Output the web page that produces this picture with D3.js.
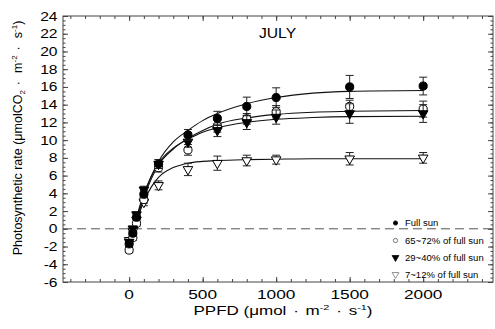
<!DOCTYPE html>
<html><head><meta charset="utf-8">
<script src="https://cdn.jsdelivr.net/npm/d3@7"></script>
<style>
body{margin:0;background:#fff;}
text{font-family:Arial,"Liberation Sans",sans-serif;fill:#000;}
</style></head>
<body><svg id="c" width="495" height="329"></svg>
<script>
// ---- data ----
const ppfd = [0, 25, 50, 100, 200, 400, 600, 800, 1000, 1500, 2000];
const seriesNames = ["Full sun", "65~72% of full sun", "29~40% of full sun", "7~12% of full sun"];
const fullSun      = [-1.7, -0.5, 1.3, 3.9, 7.3, 10.6, 12.45, 13.8, 14.8, 16.0, 16.1];
const fullSunErr   = [0.3, 0.3, 0.3, 0.4, 0.5, 0.6, 0.8, 1.05, 1.1, 1.3, 1.0];
const sun65        = [-2.4, -1.0, 0.6, 3.3, 6.9, 8.9, 11.6, 12.4, 13.2, 13.8, 13.5];
const sun65Err     = [0.3, 0.3, 0.3, 0.4, 0.5, 0.6, 0.7, 0.6, 0.7, 0.7, 0.9];
const sun29        = [-1.5, 0.0, 1.6, 4.4, 7.3, 9.8, 11.1, 12.0, 12.6, 13.0, 13.0];
const sun29Err     = [0.3, 0.3, 0.3, 0.4, 0.5, 0.6, 0.7, 0.8, 0.8, 1.1, 1.0];
const sun7         = [-1.3, -0.3, 1.0, 3.0, 4.9, 6.7, 7.4, 7.7, 7.8, 7.9, 8.0];
const sun7Err      = [0.3, 0.3, 0.3, 0.4, 0.5, 0.7, 0.8, 0.6, 0.5, 0.7, 0.6];
// fitted light-response curves
const fitX         = [0, 25, 50, 100, 150, 200, 300, 400, 500, 600, 800, 1000, 1250, 1500, 2000];
const fitFullSun   = [-2.0, -0.4, 1.1, 3.8, 5.9, 7.6, 9.8, 11.1, 12.2, 13.0, 14.1, 14.8, 15.3, 15.5, 15.6];
const fitSun65     = [-2.3, -0.7, 0.9, 3.5, 5.6, 7.2, 9.0, 10.2, 11.1, 11.8, 12.5, 12.9, 13.15, 13.25, 13.35];
const fitSun29     = [-1.8, -0.3, 1.3, 3.9, 5.9, 7.4, 9.1, 10.1, 10.9, 11.4, 12.0, 12.35, 12.55, 12.65, 12.7];
const fitSun7      = [-1.9, -0.5, 0.8, 3.1, 4.7, 5.8, 6.9, 7.4, 7.6, 7.7, 7.8, 7.85, 7.9, 7.9, 7.9];
const xTickLabels  = [0, 500, 1000, 1500, 2000];
const yTickLabels  = [-6, -4, -2, 0, 2, 4, 6, 8, 10, 12, 14, 16, 18, 20, 22, 24];

// ---- layout ----
const L = 63, R = 493, T = 16, B = 282;
const svg = d3.select("#c");
const x = d3.scaleLinear().domain([-450, 2475]).range([L, R]);
const y = d3.scaleLinear().domain([-6, 24]).range([B, T]);
const axisCol = "#444";

function stretchText(g, px, py, str, size, sx, anchor) {
  return g.append("text").attr("transform", `translate(${px},${py}) scale(${sx},1)`)
    .attr("text-anchor", anchor || "middle").style("font-size", size + "px").text(str);
}

// frame
svg.append("rect").attr("x", L).attr("y", T).attr("width", R - L).attr("height", B - T)
  .attr("fill", "none").attr("stroke", axisCol).attr("stroke-width", 1);

// ticks via d3 axes (inward), minor & major, all four sides
const xMinor = d3.range(-400, 2475, 100);
const yMinor = d3.range(-6, 24.01, 0.5);
function addAxis(axisGen, tr) {
  const g = svg.append("g").attr("transform", tr).call(axisGen);
  g.select(".domain").remove();
  g.selectAll("line").attr("stroke", axisCol);
  g.selectAll("text").remove();
  return g;
}
addAxis(d3.axisBottom(x).tickValues(xMinor).tickSize(-3), `translate(0,${B})`);
addAxis(d3.axisBottom(x).tickValues(xTickLabels).tickSize(-5), `translate(0,${B})`);
addAxis(d3.axisTop(x).tickValues(xMinor).tickSize(-3), `translate(0,${T})`);
addAxis(d3.axisTop(x).tickValues(xTickLabels).tickSize(-5), `translate(0,${T})`);
addAxis(d3.axisLeft(y).tickValues(yMinor).tickSize(-2.5), `translate(${L},0)`);
addAxis(d3.axisLeft(y).tickValues(yTickLabels).tickSize(-5), `translate(${L},0)`);
addAxis(d3.axisRight(y).tickValues(yMinor).tickSize(-2.5), `translate(${R},0)`);
addAxis(d3.axisRight(y).tickValues(yTickLabels).tickSize(-5), `translate(${R},0)`);

// tick labels
const lab = svg.append("g");
xTickLabels.forEach(v => stretchText(lab, x(v), 298.5, String(v), 12.5, 1.38, "middle"));
yTickLabels.forEach(v => stretchText(lab, 57.5, y(v) + 4.5, String(v), 12.5, 1.25, "end"));

// zero dashed line
svg.append("line").attr("x1", L).attr("x2", R).attr("y1", y(0)).attr("y2", y(0))
  .attr("stroke", "#555").attr("stroke-width", 1).attr("stroke-dasharray", "9,5");

// curves
const line = d3.line().x(d => x(d[0])).y(d => y(d[1])).curve(d3.curveMonotoneX);
[fitFullSun, fitSun65, fitSun29, fitSun7].forEach(f => {
  svg.append("path").attr("d", line(fitX.map((v, i) => [v, f[i]])))
    .attr("fill", "none").attr("stroke", "#111").attr("stroke-width", 1.1);
});

// series definitions
const series = [
  { vals: sun7, err: sun7Err, sym: d3.symbolTriangle, fill: "#fff", rot: 180, size: 40 },
  { vals: sun65, err: sun65Err, sym: d3.symbolCircle, fill: "#fff", rot: 0, size: 52 },
  { vals: sun29, err: sun29Err, sym: d3.symbolTriangle, fill: "#000", rot: 180, size: 40 },
  { vals: fullSun, err: fullSunErr, sym: d3.symbolCircle, fill: "#000", rot: 0, size: 52 }
];
series.forEach(s => {
  const g = svg.append("g");
  ppfd.forEach((p, i) => {
    const cx = x(p), v = s.vals[i], e = s.err[i];
    const y1 = y(v + e), y2 = y(v - e);
    g.append("line").attr("x1", cx).attr("x2", cx).attr("y1", y1).attr("y2", y2).attr("stroke", "#222");
    g.append("line").attr("x1", cx - 4).attr("x2", cx + 4).attr("y1", y1).attr("y2", y1).attr("stroke", "#222");
    g.append("line").attr("x1", cx - 4).attr("x2", cx + 4).attr("y1", y2).attr("y2", y2).attr("stroke", "#222");
  });
  ppfd.forEach((p, i) => {
    g.append("path").attr("d", d3.symbol().type(s.sym).size(s.size)())
      .attr("transform", `translate(${x(p)},${y(s.vals[i])}) rotate(${s.rot})`)
      .attr("fill", s.fill).attr("stroke", "#000").attr("stroke-width", 1);
  });
});

// legend
const leg = svg.append("g");
const legY = [223, 240.5, 257.5, 274.5];
const legSym = [
  { sym: d3.symbolCircle, size: 14, fill: "#000", stroke: "#000", rot: 0 },
  { sym: d3.symbolCircle, size: 14, fill: "#fff", stroke: "#555", rot: 0 },
  { sym: d3.symbolTriangle, size: 20, fill: "#000", stroke: "#000", rot: 180 },
  { sym: d3.symbolTriangle, size: 20, fill: "#fff", stroke: "#777", rot: 180 }
];
seriesNames.forEach((n, i) => {
  const s = legSym[i];
  leg.append("path").attr("d", d3.symbol().type(s.sym).size(s.size)())
    .attr("transform", `translate(395.5,${legY[i]}) rotate(${s.rot})`)
    .attr("fill", s.fill).attr("stroke", s.stroke).attr("stroke-width", 0.8);
  stretchText(leg, 405, legY[i] + 3.3, n, 9, 1.06, "start");
});

// title
stretchText(svg, 277.5, 38, "JULY", 14, 1.12, "middle");

// x axis title
const xt = svg.append("text").attr("transform", "translate(283,315) scale(1.36,1)")
  .attr("text-anchor", "middle").style("font-size", "12.5px");
xt.append("tspan").text("PPFD (μmol");
xt.append("tspan").attr("dx", 5).text("·");
xt.append("tspan").attr("dx", 5).text("m");
xt.append("tspan").attr("dy", -5).style("font-size", "8px").text("-2");
xt.append("tspan").attr("dy", 5).attr("dx", 5).text("·");
xt.append("tspan").attr("dx", 5).text("s");
xt.append("tspan").attr("dy", -5).style("font-size", "8px").text("-1");
xt.append("tspan").attr("dy", 5).text(")");

// y axis title
const yt = svg.append("text").attr("transform", "translate(22,138) rotate(-90)")
  .attr("text-anchor", "middle").style("font-size", "12.5px");
yt.append("tspan").text("Photosynthetic rate (μmolCO");
yt.append("tspan").attr("dy", 3).style("font-size", "8px").text("2");
yt.append("tspan").attr("dy", -3).attr("dx", 5).text("·");
yt.append("tspan").attr("dx", 8).text("m");
yt.append("tspan").attr("dy", -5).style("font-size", "8px").text("-2");
yt.append("tspan").attr("dy", 5).attr("dx", 5).text("·");
yt.append("tspan").attr("dx", 8).text("s");
yt.append("tspan").attr("dy", -5).style("font-size", "8px").text("-1");
yt.append("tspan").attr("dy", 5).text(")");
</script></body></html>
